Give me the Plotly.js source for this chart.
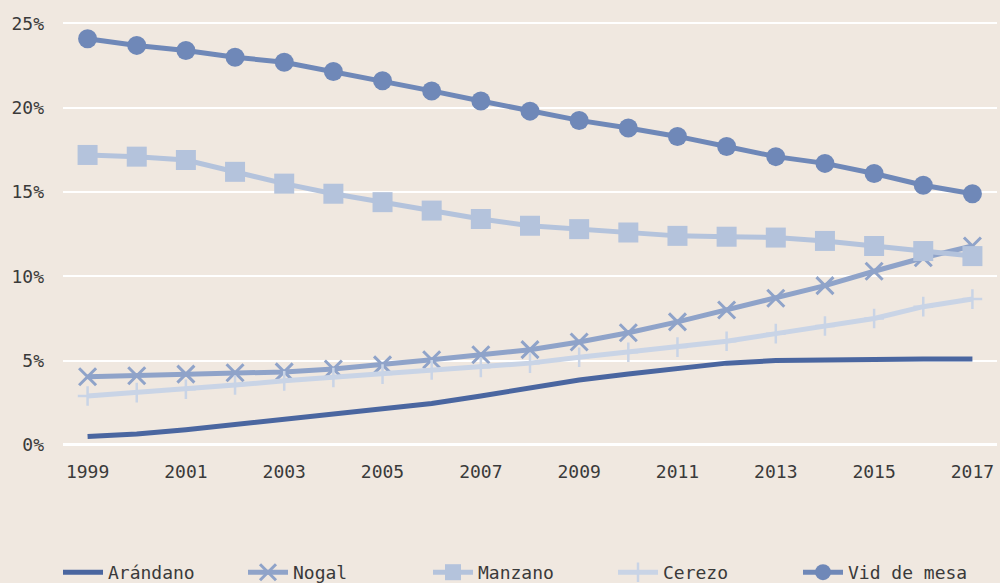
<!DOCTYPE html>
<html>
<head>
<meta charset="utf-8">
<script src="https://cdn.plot.ly/plotly-3.0.1.min.js"></script>
<style>html,body{margin:0;padding:0;background:#f0e8e0;}#chart{width:1000px;height:583px;}</style>
</head>
<body>
<div id="chart"></div>
<script>
const years = [1999,2000,2001,2002,2003,2004,2005,2006,2007,2008,2009,2010,2011,2012,2013,2014,2015,2016,2017];
const arandano = [0.5,0.65,0.9,1.2,1.55,1.85,2.15,2.45,2.9,3.4,3.85,4.2,4.55,4.85,5.0,5.05,5.05,5.1,5.1];
const nogal = [4.04,4.1,4.2,4.28,4.33,4.5,4.75,5.05,5.35,5.65,6.1,6.65,7.3,8.0,8.7,9.45,10.3,11.1,11.8];
const manzano = [17.2,17.1,16.9,16.2,15.5,14.9,14.4,13.9,13.4,13.0,12.8,12.6,12.4,12.35,12.3,12.1,11.8,11.5,11.2];
const cerezo = [2.9,3.1,3.3,3.55,3.8,4.0,4.2,4.45,4.6,4.85,5.2,5.5,5.8,6.15,6.6,7.05,7.5,8.2,8.65];
const vid = [24.1,23.7,23.4,23.0,22.7,22.15,21.6,21.0,20.4,19.8,19.25,18.8,18.3,17.7,17.1,16.7,16.1,15.4,14.9];
const names = ['Arándano','Nogal','Manzano','Cerezo','Vid de mesa'];
const yTicks = [0,5,10,15,20,25];
const yTickText = ['0%','5%','10%','15%','20%','25%'];
const xTicks = [1999,2001,2003,2005,2007,2009,2011,2013,2015,2017];

const font = 'DejaVu Sans Mono, monospace';
const traces = [
  {x: years, y: arandano, name: names[0], mode: 'lines',
   line: {color: '#4a66a0', width: 5}},
  {x: years, y: nogal, name: names[1], mode: 'lines+markers',
   line: {color: '#8fa3c9', width: 5},
   marker: {symbol: 'x-thin', size: 17, line: {color: '#8fa3c9', width: 3}}},
  {x: years, y: manzano, name: names[2], mode: 'lines+markers',
   line: {color: '#b4c3dc', width: 5},
   marker: {symbol: 'square', size: 20, color: '#b4c3dc'}},
  {x: years, y: cerezo, name: names[3], mode: 'lines+markers',
   line: {color: '#c9d4e6', width: 5},
   marker: {symbol: 'cross-thin', size: 14, line: {color: '#c9d4e6', width: 2.5}}},
  {x: years, y: vid, name: names[4], mode: 'lines+markers',
   line: {color: '#6f88b8', width: 5},
   marker: {symbol: 'circle', size: 19, color: '#6f88b8'}}
];

const layout = {
  width: 1000, height: 583,
  paper_bgcolor: '#f0e8e0', plot_bgcolor: '#f0e8e0',
  margin: {l: 63, r: 3, t: 10, b: 128},
  font: {family: font, size: 18, color: '#3a3a3a'},
  xaxis: {range: [1998.5, 2017.5], tickvals: xTicks, ticktext: xTicks.map(String),
    showgrid: false, zeroline: false, showline: false, ticks: '', automargin: false,
    ticklabelstandoff: 4,
    tickfont: {family: font, size: 18, color: '#3a3a3a'}},
  yaxis: {range: [-0.6, 25.8], tickvals: yTicks, ticktext: yTickText, automargin: false,
    showgrid: true, gridcolor: '#ffffff', gridwidth: 1.5,
    zeroline: true, zerolinecolor: '#ffffff', zerolinewidth: 3,
    showline: false, ticks: '', ticklabelstandoff: 18,
    tickfont: {family: font, size: 18, color: '#3a3a3a'}},
  showlegend: true,
  legend: {orientation: 'h', xref: 'container', yref: 'container',
    x: 0.058, xanchor: 'left', y: 0.018, yanchor: 'middle',
    font: {family: font, size: 18, color: '#3a3a3a'},
    bgcolor: 'rgba(0,0,0,0)', entrywidth: 130, itemwidth: 40}
};

Plotly.newPlot('chart', traces, layout, {displayModeBar: false});
</script>
</body>
</html>
